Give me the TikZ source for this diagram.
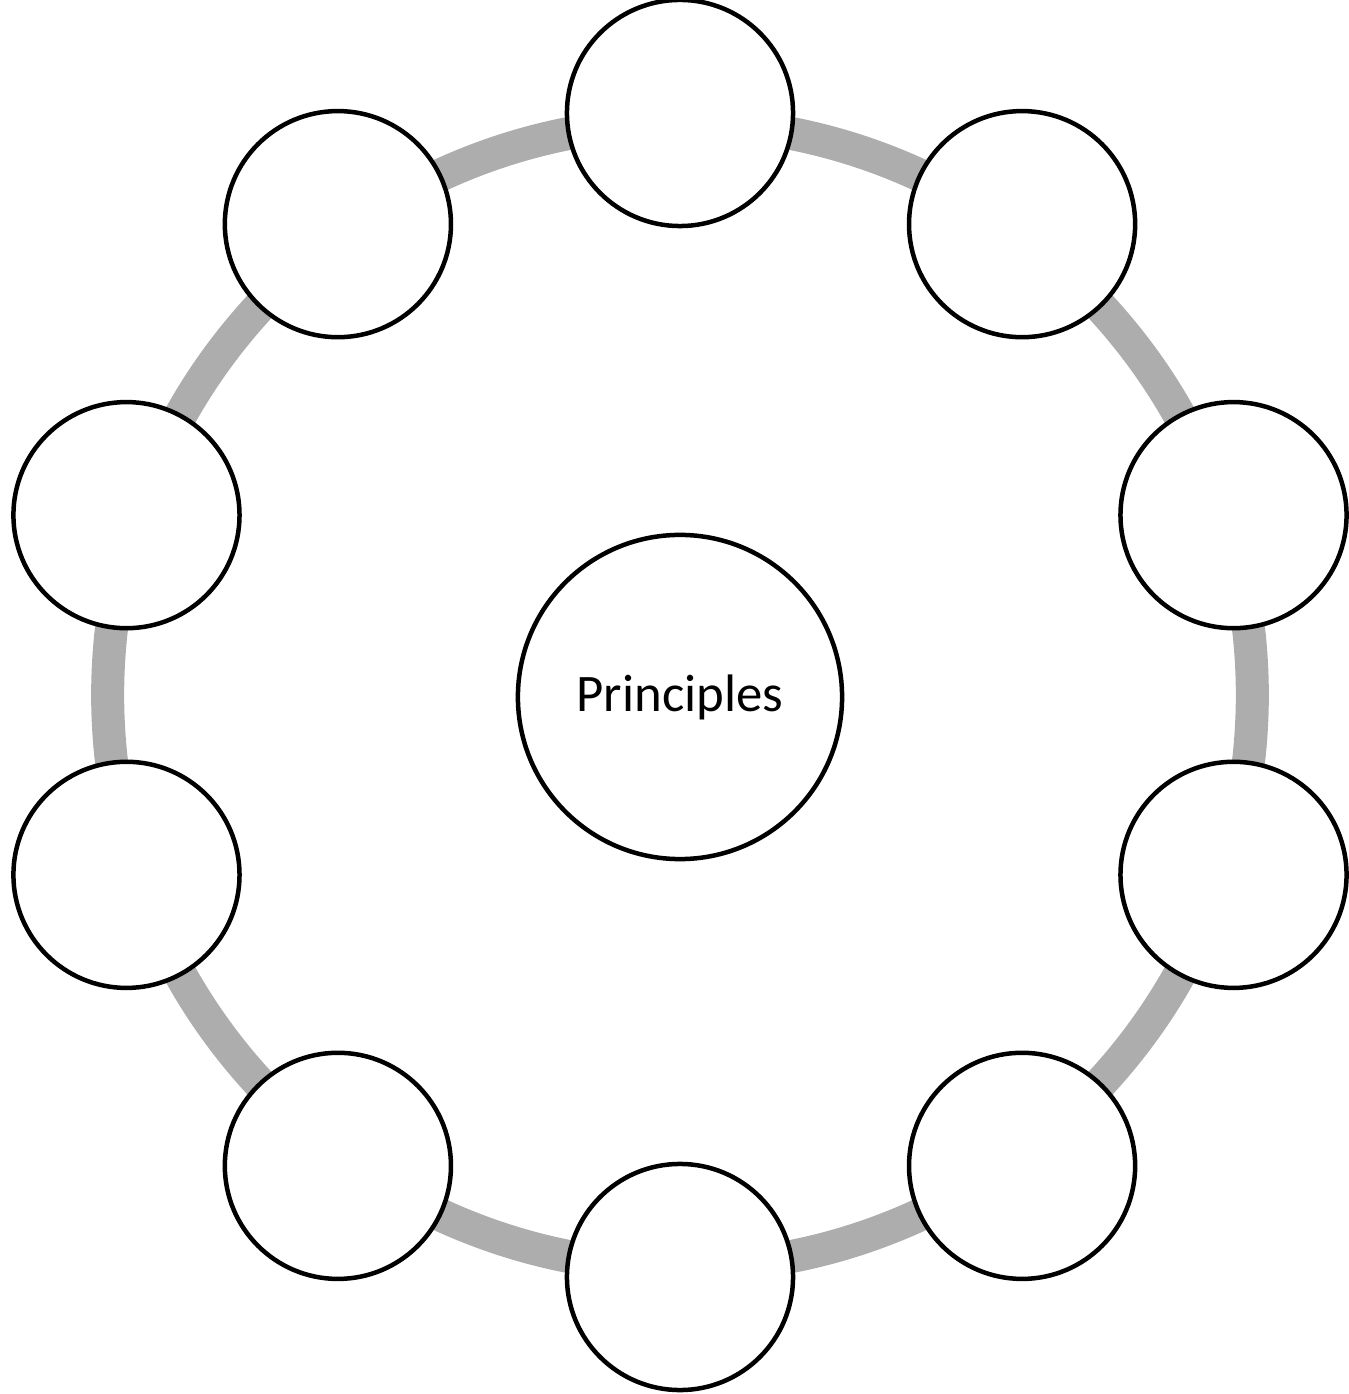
\documentclass[tikz,border=0pt]{standalone}
\usepackage{fontspec}
\setmainfont{Carlito}
\definecolor{ringgray}{RGB}{173,173,173}
\begin{document}
\begin{tikzpicture}[x=0.01cm,y=0.01cm]
\useasboundingbox (-680,-699) rectangle (668,695);

% ring
\draw[ringgray, line width=0.33cm] (0,0) circle (5.72cm);

% centre
\node[draw, circle, line width=0.045cm, fill=white, minimum size=3.24cm, inner sep=0pt, font=\fontsize{15}{18}\selectfont] (core) at (0,-2) {Principles};

% outer circles
\foreach \i in {0,...,9}{
  \node[draw, circle, line width=0.045cm, fill=white, minimum size=2.26cm, inner sep=0pt] (sat\i) at ({90-36*\i}:582) {};
}

\end{tikzpicture}
\end{document}
